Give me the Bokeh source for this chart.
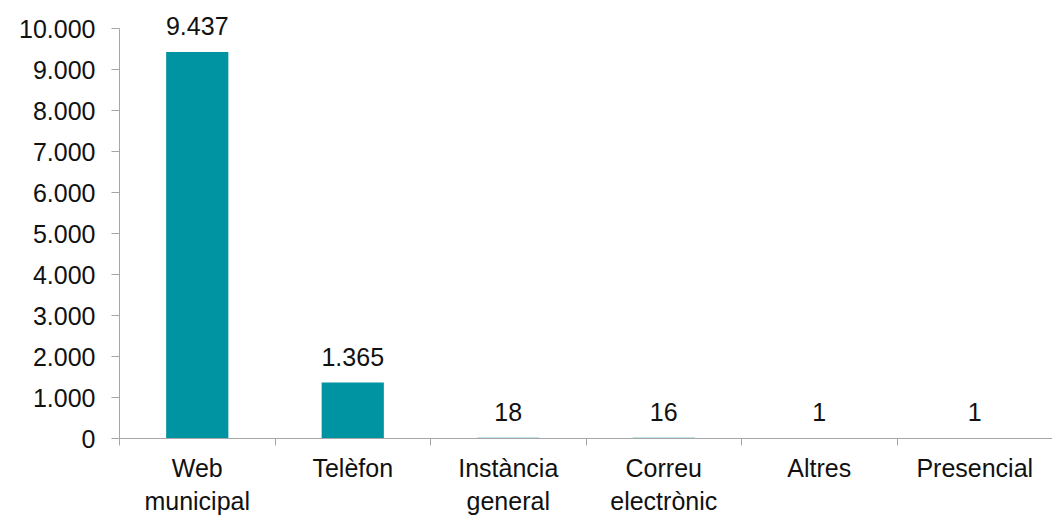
from bokeh.plotting import figure
from bokeh.models import Range1d, FixedTicker, ColumnDataSource, LabelSet
from bokeh.core.properties import value
from bokeh.embed import file_html
from bokeh.resources import INLINE

categories = ["Web\nmunicipal", "Telèfon", "Instància\ngeneral", "Correu\nelectrònic", "Altres", "Presencial"]
values = [9437, 1365, 18, 16, 1, 1]
y_ticks = [0, 1000, 2000, 3000, 4000, 5000, 6000, 7000, 8000, 9000, 10000]

def fmt(v):
    return f"{v:,}".replace(",", ".")

FONT = "Liberation Sans"
BAR = "#0093A1"
AXIS = "#A6A6A6"
TXT = "#111111"
FS = "25px"

n = len(categories)
centers = [i + 0.5 for i in range(n)]
bounds = [float(i) for i in range(n + 1)]

src = ColumnDataSource(dict(x=centers, top=values, label=[fmt(v) for v in values]))

p = figure(width=1052, height=518, output_backend="svg", toolbar_location=None,
           x_range=Range1d(0, n), y_range=Range1d(0, 10400),
           min_border_left=119, min_border_right=0, min_border_top=12, min_border_bottom=80)
p.outline_line_color = None
p.grid.visible = False
p.background_fill_color = "white"
p.border_fill_color = "white"

p.vbar(x="x", top="top", width=0.4, source=src, fill_color=BAR, line_color=None)

labels = LabelSet(x="x", y="top", text="label", source=src, text_align="center",
                  text_baseline="alphabetic", y_offset=17, text_font=value(FONT),
                  text_font_size=value(FS), text_color=TXT)
p.add_layout(labels)

# y axis
ya = p.yaxis[0]
ya.ticker = FixedTicker(ticks=y_ticks)
ya.major_label_overrides = {t: fmt(t) for t in y_ticks}
ya.bounds = (0, 10000)
ya.axis_line_color = AXIS
ya.major_tick_line_color = AXIS
ya.major_tick_in = 0
ya.major_tick_out = 8
ya.minor_tick_line_color = None
ya.major_label_standoff = 16
ya.major_label_text_font = FONT
ya.major_label_text_font_size = FS
ya.major_label_text_color = TXT

# x axis
xa = p.xaxis[0]
xa.ticker = FixedTicker(ticks=centers, minor_ticks=bounds)
xa.major_label_overrides = {c: lab for c, lab in zip(centers, categories)}
xa.axis_line_color = AXIS
xa.major_tick_line_color = None
xa.major_tick_in = 0
xa.major_tick_out = 0
xa.minor_tick_line_color = AXIS
xa.minor_tick_in = 0
xa.minor_tick_out = 7
xa.major_label_standoff = 8
xa.major_label_text_font = FONT
xa.major_label_text_font_size = FS
xa.major_label_text_color = TXT

open("out.html", "w").write(file_html(p, INLINE))
